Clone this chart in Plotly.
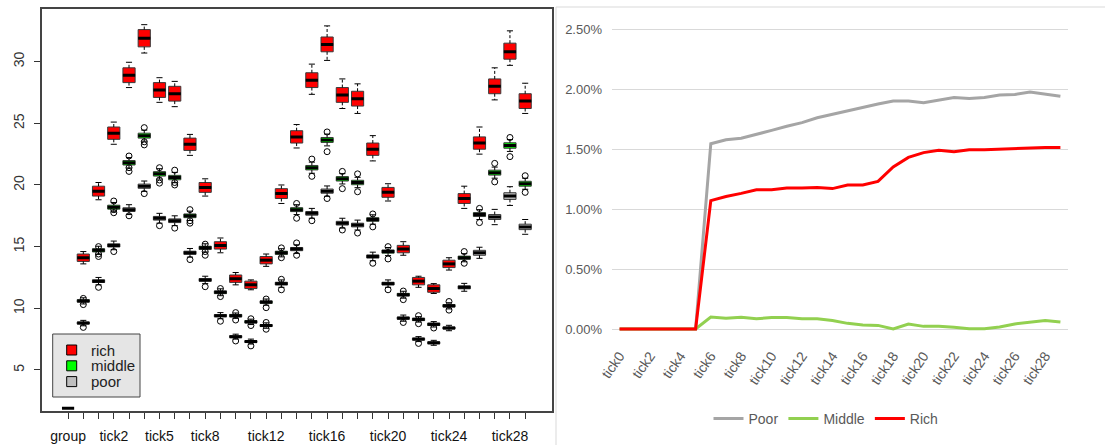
import plotly.graph_objects as go

W, H = 1105, 445

# ---------------- left panel: box plots ----------------
box_labels = ["group"] + ["tick%d" % i for i in range(30)]
shown_box_labels = ["group", "tick2", "tick5", "tick8", "tick12", "tick16", "tick20", "tick24", "tick28"]
group_value = 1.9

rich_med = [14.1, 19.5, 24.2, 28.9, 31.9, 27.7, 27.4, 23.3, 19.8, 15.1, 12.4, 11.9, 13.9, 19.3, 23.9,
            28.5, 31.4, 27.3, 27.0, 22.9, 19.4, 14.8, 12.2, 11.6, 13.6, 18.9, 23.4, 28.0, 30.8, 26.8]
rich_q1 = [13.8, 19.1, 23.7, 28.3, 31.2, 27.1, 26.8, 22.8, 19.4, 14.8, 12.1, 11.6, 13.6, 18.9, 23.4,
           27.9, 30.8, 26.7, 26.4, 22.4, 19.0, 14.5, 11.9, 11.3, 13.3, 18.5, 22.9, 27.4, 30.2, 26.2]
rich_q3 = [14.4, 19.9, 24.7, 29.5, 32.6, 28.3, 28.0, 23.8, 20.2, 15.4, 12.7, 12.2, 14.2, 19.7, 24.4,
           29.1, 32.0, 27.9, 27.6, 23.4, 19.8, 15.1, 12.5, 11.9, 13.9, 19.3, 23.9, 28.6, 31.5, 27.4]
rich_lo = [13.6, 18.8, 23.3, 27.9, 30.7, 26.7, 26.35, 22.4, 19.1, 14.5, 11.9, 11.5, 13.4, 18.5, 23.0,
           27.35, 30.1, 26.2, 25.8, 21.95, 18.7, 14.3, 11.7, 11.2, 13.1, 18.1, 22.5, 26.9, 29.7, 25.8]
rich_hi = [14.6, 20.2, 25.1, 29.95, 33.0, 28.7, 28.4, 24.1, 20.5, 15.7, 12.9, 12.3, 14.4, 20.0, 24.9,
           29.8, 32.9, 28.6, 28.2, 24.0, 20.1, 15.4, 12.6, 12.0, 14.1, 19.9, 24.7, 29.5, 32.5, 28.25]

mid_med = [10.6, 14.7, 18.2, 21.8, 24.0, 20.9, 20.6, 17.5, 14.9, 11.3, 9.4, 8.9, 10.5, 14.5, 18.0,
           21.4, 23.65, 20.5, 20.2, 17.2, 14.6, 11.1, 9.1, 8.7, 10.2, 14.1, 17.6, 21.0, 23.2, 20.1]
mid_half = [0.1, 0.13, 0.16, 0.18, 0.2, 0.18, 0.18, 0.15, 0.13, 0.11, 0.1, 0.1, 0.1, 0.13, 0.16,
            0.18, 0.2, 0.18, 0.18, 0.15, 0.13, 0.11, 0.1, 0.1, 0.1, 0.13, 0.16, 0.2, 0.22, 0.2]
mid_whisk = [0.25, 0.33, 0.38, 0.42, 0.45, 0.42, 0.42, 0.38, 0.33, 0.28, 0.22, 0.22, 0.25, 0.33, 0.4,
             0.45, 0.48, 0.42, 0.42, 0.38, 0.33, 0.28, 0.22, 0.22, 0.25, 0.33, 0.4, 0.45, 0.48, 0.45]
mid_out = [[10.8, 10.3], [15.0, 14.4, 14.2], [18.7, 18.0, 17.75], [22.35, 21.4, 21.1], [24.65, 23.5, 23.25],
           [21.4, 20.4, 20.15], [21.2, 20.2, 20.0], [18.0, 17.1, 16.9], [15.2, 14.6, 14.3], [11.6, 10.95],
           [9.65, 9.05], [9.15, 8.6], [10.75, 10.05], [14.9, 14.1], [18.5, 17.3],
           [22.1, 20.7], [24.3, 22.7], [21.1, 19.7], [20.9, 19.45], [17.65, 16.6],
           [15.0, 14.0], [11.4, 10.7], [9.4, 8.75], [8.4], [10.55, 9.85],
           [14.6, 13.65], [18.1, 16.95], [21.75, 20.25], [23.85, 22.3], [20.75, 19.4]]

poor_med = [8.8, 12.2, 15.1, 18.0, 19.9, 17.3, 17.1, 14.5, 12.3, 9.4, 7.7, 7.3, 8.6, 12.0, 14.8,
            17.7, 19.5, 16.9, 16.75, 14.2, 12.0, 9.2, 7.5, 7.2, 8.4, 11.7, 14.5, 17.4, 19.1, 16.6]
poor_half = [0.08, 0.11, 0.13, 0.15, 0.17, 0.15, 0.15, 0.13, 0.11, 0.09, 0.08, 0.08, 0.08, 0.11, 0.13,
             0.15, 0.17, 0.15, 0.15, 0.13, 0.11, 0.09, 0.08, 0.08, 0.08, 0.12, 0.2, 0.2, 0.27, 0.22]
poor_whisk = [0.22, 0.3, 0.35, 0.4, 0.42, 0.4, 0.4, 0.35, 0.3, 0.25, 0.2, 0.2, 0.22, 0.3, 0.35,
              0.4, 0.42, 0.4, 0.4, 0.35, 0.3, 0.25, 0.2, 0.2, 0.22, 0.32, 0.45, 0.62, 0.76, 0.6]
poor_out = [[8.45], [11.7], [14.6], [17.5], [19.3], [16.7], [16.5], [13.95], [11.75], [8.95],
            [7.35], [6.95], [8.85, 8.3], [12.35, 11.5], [15.3, 14.3], [17.1], [18.9], [16.35], [16.1], [13.65],
            [11.5], [8.85], [7.15], [], [], [], [], [], [], []]

legend_names = ["rich", "middle", "poor"]
box_colors = ["#ff0000", "#00ff00", "#bebebe"]

# ---------------- right panel: lines ----------------
line_ticks = ["tick%d" % i for i in range(30)]
poor_pct = [0, 0, 0, 0, 0, 0, 0.01544, 0.01577, 0.0159, 0.0162, 0.01655, 0.0169, 0.0172, 0.0176, 0.0179,
            0.0182, 0.0185, 0.01875, 0.019, 0.019, 0.01885, 0.0191, 0.0193, 0.0192, 0.0193,
            0.0195, 0.01955, 0.01975, 0.01955, 0.0194]
middle_pct = [0, 0, 0, 0, 0, 0, 0.0010, 0.00089, 0.00097, 0.00086, 0.00095, 0.00095, 0.00086, 0.00086, 0.0007,
              0.00047, 0.00033, 0.0003, 0.0, 0.00042, 0.00022, 0.00022, 0.00014, 0.00003, 0.00003,
              0.00017, 0.00042, 0.00058, 0.0007, 0.00058]
rich_pct = [0, 0, 0, 0, 0, 0, 0.0107, 0.01104, 0.0113, 0.0116, 0.0116, 0.01174, 0.01174, 0.0118, 0.0117,
            0.012, 0.012, 0.0123, 0.0135, 0.0143, 0.0147, 0.0149, 0.01477, 0.01494, 0.01494,
            0.015, 0.01505, 0.01513, 0.01513, 0.01513]
line_names = ["Poor", "Middle", "Rich"]
line_colors = ["#a5a5a5", "#92d050", "#ff0000"]


def px(x):
    return x / W


def py(y):
    return (H - y) / H


fig = go.Figure()

pos = list(range(1, 31))
groups = [
    (rich_med, rich_q1, rich_q3, rich_lo, rich_hi, [[] for _ in pos]),
    (mid_med,
     [m - h for m, h in zip(mid_med, mid_half)], [m + h for m, h in zip(mid_med, mid_half)],
     [m - w for m, w in zip(mid_med, mid_whisk)], [m + w for m, w in zip(mid_med, mid_whisk)], mid_out),
    (poor_med,
     [m - h for m, h in zip(poor_med, poor_half)], [m + h for m, h in zip(poor_med, poor_half)],
     [m - w for m, w in zip(poor_med, poor_whisk)], [m + w for m, w in zip(poor_med, poor_whisk)], poor_out),
]

BOXW = 0.8
for (med, q1, q3, lo, hi, outs), col in zip(groups, box_colors):
    fig.add_trace(go.Box(x=pos, q1=q1, median=med, q3=q3, lowerfence=q1, upperfence=q3,
                         width=BOXW, whiskerwidth=0, fillcolor=col,
                         line=dict(color="#3a3a3a", width=1), boxpoints=False,
                         showlegend=False, hoverinfo="skip", xaxis="x", yaxis="y"))
    # dashed whiskers
    wx, wy = [], []
    for x, a, b, c, d in zip(pos, q3, hi, q1, lo):
        wx += [x, x, None, x, x, None]
        wy += [a, b, None, c, d, None]
    fig.add_trace(go.Scatter(x=wx, y=wy, mode="lines", line=dict(color="black", width=1, dash="3px,2px"),
                             showlegend=False, hoverinfo="skip", xaxis="x", yaxis="y"))
    # staples
    sx, sy = [], []
    for x, b, d in zip(pos, hi, lo):
        sx += [x - BOXW / 4, x + BOXW / 4, None, x - BOXW / 4, x + BOXW / 4, None]
        sy += [b, b, None, d, d, None]
    fig.add_trace(go.Scatter(x=sx, y=sy, mode="lines", line=dict(color="black", width=1),
                             showlegend=False, hoverinfo="skip", xaxis="x", yaxis="y"))
    # thick medians
    mx, my = [], []
    for x, m in zip(pos, med):
        mx += [x - BOXW / 2, x + BOXW / 2, None]
        my += [m, m, None]
    fig.add_trace(go.Scatter(x=mx, y=my, mode="lines", line=dict(color="black", width=3),
                             showlegend=False, hoverinfo="skip", xaxis="x", yaxis="y"))
    # outliers
    ox, oy = [], []
    for x, o in zip(pos, outs):
        ox += [x] * len(o)
        oy += o
    if ox:
        fig.add_trace(go.Scatter(x=ox, y=oy, mode="markers",
                                 marker=dict(symbol="circle-open", size=6, color="black", line=dict(width=1)),
                                 showlegend=False, hoverinfo="skip", xaxis="x", yaxis="y"))

# the "group" column
fig.add_trace(go.Scatter(x=[-BOXW / 2, BOXW / 2], y=[group_value, group_value], mode="lines",
                         line=dict(color="black", width=3), showlegend=False, hoverinfo="skip",
                         xaxis="x", yaxis="y"))

# right panel lines
for name, vals, col in zip(line_names, [poor_pct, middle_pct, rich_pct], line_colors):
    fig.add_trace(go.Scatter(x=list(range(len(line_ticks))), y=vals, name=name, mode="lines",
                             line=dict(color=col, width=3), xaxis="x2", yaxis="y2", legend="legend"))

box_ticktext = [lab if lab in shown_box_labels else "" for lab in box_labels]

shapes = [
    # right panel border
    dict(type="line", xref="paper", yref="paper", x0=px(556), x1=1.0, y0=py(7), y1=py(7),
         line=dict(color="#d9d9d9", width=1)),
    dict(type="line", xref="paper", yref="paper", x0=px(556), x1=px(556), y0=py(7), y1=0,
         line=dict(color="#d9d9d9", width=1)),
    # left legend box
    dict(type="rect", xref="paper", yref="paper", x0=px(52.7), x1=px(140), y0=py(397), y1=py(334),
         fillcolor="#e5e5e5", line=dict(color="#444", width=1)),
]
annotations = []
for i, (nm, col) in enumerate(zip(legend_names, box_colors)):
    yc = 350 + i * 15.8
    shapes.append(dict(type="rect", xref="paper", yref="paper", x0=px(66.7), x1=px(76.7),
                       y0=py(yc + 5), y1=py(yc - 5), fillcolor=col, line=dict(color="black", width=1)))
    annotations.append(dict(xref="paper", yref="paper", x=px(89), y=py(yc), text=nm, showarrow=False,
                            xanchor="left", yanchor="middle",
                            font=dict(family="Liberation Sans, Arial", size=15, color="#222")))

fig.update_layout(
    width=W, height=H, margin=dict(l=0, r=0, t=0, b=0, autoexpand=False),
    paper_bgcolor="white", plot_bgcolor="white", boxmode="overlay",
    xaxis=dict(domain=[px(41.7), px(552)], range=[-1.73, 31.76], anchor="y", automargin=False,
               tickmode="array", tickvals=list(range(len(box_labels))), ticktext=box_ticktext,
               ticks="outside", ticklen=6, tickcolor="#333", tickwidth=1, ticklabelstandoff=5,
               showline=True, mirror=True, linecolor="#444", linewidth=1.5,
               showgrid=False, zeroline=False,
               tickfont=dict(family="Liberation Sans, Arial", size=14, color="#111")),
    yaxis=dict(domain=[py(411), py(9)], range=[1.67, 34.27], anchor="x", automargin=False,
               tickmode="array", tickvals=[5, 10, 15, 20, 25, 30], tickangle=-90,
               ticks="outside", ticklen=6, tickcolor="#333", tickwidth=1, ticklabelstandoff=4,
               showline=True, mirror=True, linecolor="#444", linewidth=1.5,
               showgrid=False, zeroline=False,
               tickfont=dict(family="Liberation Sans, Arial", size=14, color="#333")),
    xaxis2=dict(domain=[px(612), px(1068)], range=[-0.5, 29.5], anchor="y2", automargin=False,
                tickmode="array", tickvals=list(range(0, 30, 2)), ticktext=line_ticks[0::2],
                tickangle=-55, ticks="", showgrid=False, zeroline=False, showline=False,
                ticklabelstandoff=3,
                tickfont=dict(family="Liberation Sans, Arial", size=14, color="#595959")),
    yaxis2=dict(domain=[py(341), py(23)], range=[-0.001, 0.0255], anchor="x2", automargin=False,
                tickmode="array", tickvals=[0, 0.005, 0.01, 0.015, 0.02, 0.025], tickformat=".2%",
                ticks="", showgrid=True, gridcolor="#d9d9d9", gridwidth=1, zeroline=False, showline=False,
                ticklabelstandoff=9,
                tickfont=dict(family="Liberation Sans, Arial", size=13, color="#595959")),
    legend=dict(orientation="h", x=px(826), xanchor="center", y=py(419), yanchor="middle",
                font=dict(family="Liberation Sans, Arial", size=14, color="#595959"),
                bgcolor="rgba(0,0,0,0)", traceorder="normal"),
    shapes=shapes, annotations=annotations,
)

fig.write_html("out.html", config={"displayModeBar": False},
               post_script="document.body.style.margin='0px';document.body.style.overflow='hidden';")
